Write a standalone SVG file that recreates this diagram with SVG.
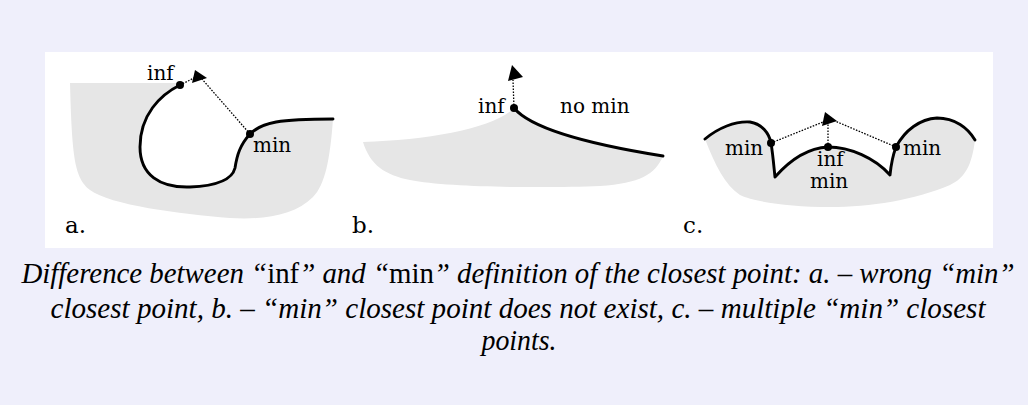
<svg xmlns="http://www.w3.org/2000/svg" width="1028" height="405" viewBox="0 0 1028 405">
<style>
.bg{fill:#EFEFFB}
.panel{fill:#FFFFFF}
.shade{fill:#E6E6E6;stroke:none}
.curve{fill:none;stroke:#000;stroke-width:2.9;stroke-linecap:round;stroke-linejoin:round}
.dot{fill:#000}
.dotted{fill:none;stroke:#000;stroke-width:1.3;stroke-dasharray:1.6,1.4}
.head{fill:#000}
.lbl{font-family:'DejaVu Serif',serif;font-size:20px;fill:#000}
.tag{font-family:'DejaVu Serif',serif;font-size:23px;fill:#000}
.cap{font-family:'Liberation Serif','Times New Roman',serif;font-style:italic;font-size:29px;fill:#000}
.up{font-style:normal}
</style>
<rect class="bg" x="0" y="0" width="1028" height="405"/>
<rect class="panel" x="45" y="52" width="948" height="196"/>

<g id="panel-a">
<path class="shade" d="M70,83 L180,83 C160,95 140,115 140,147 C140,175 160,188 190,187 C215,186 232,180 235,168 C237,155 240,145 250,134 C262,122 280,119 333,119 C330,160 325,185 313,197 C295,215 265,220 230,218 C180,214 110,205 90,190 C75,178 72,160 70,83 Z"/>
<path class="curve" d="M180,85 C160,95 140,115 140,147 C140,175 160,188 190,187 C215,186 232,180 235,168 C237,155 240,145 250,134 C262,122 280,119 333,119"/>
<circle class="dot" cx="180" cy="85" r="4"/>
<circle class="dot" cx="250" cy="134" r="4"/>
<text class="lbl" x="147" y="80">inf</text>
<text class="lbl" x="253" y="152">min</text>
<text class="tag" x="65" y="233">a.</text>
</g>

<g id="panel-b">
<path class="shade" d="M363,142 C430,140 495,128 514,108 C528,125 575,142 663,156 C655,175 640,183 600,186 C550,188 450,188 410,180 C385,175 370,165 363,142 Z"/>
<path class="curve" d="M514,108 C528,125 575,142 663,156"/>
<circle class="dot" cx="514" cy="108" r="4"/>
<text class="lbl" x="478" y="113">inf</text>
<text class="lbl" x="560" y="113">no min</text>
<text class="tag" x="352" y="233">b.</text>
</g>

<g id="panel-c">
<path class="shade" d="M705,139 C718,128 735,121 750,122 C762,124 769,133 771,143 C773,155 774,168 775,177 C790,160 808,148 828,147 C850,147 875,158 890,175 C891,165 893,155 896,147 C905,130 920,119 937,118 C955,118 968,128 975,140 C972,165 965,178 950,185 C915,200 870,207 830,207 C790,207 755,202 740,195 C725,185 715,165 705,139 Z"/>
<path class="curve" d="M705,139 C718,128 735,121 750,122 C762,124 769,133 771,143 C773,155 774,168 775,177 C790,160 808,148 828,147 C850,147 875,158 890,175 C891,165 893,155 896,147 C905,130 920,119 937,118 C955,118 968,128 975,140"/>
<circle class="dot" cx="771" cy="143" r="4"/>
<circle class="dot" cx="828" cy="147" r="4"/>
<circle class="dot" cx="896" cy="147" r="4"/>
<text class="lbl" x="725" y="155">min</text>
<text class="lbl" x="903" y="155">min</text>
<text class="lbl" x="817" y="166">inf</text>
<text class="lbl" x="810" y="188">min</text>
<text class="tag" x="683" y="233">c.</text>
</g>

<g id="connectors">
<path class="dotted" d="M180,85 L196,77"/>
<path class="dotted" d="M250,134 L202,79"/>
<polygon class="head" points="195,70 207,78 192,83"/>
<path class="dotted" d="M514,108 L513,80"/>
<polygon class="head" points="512,65 523,77 508,81"/>
<path class="dotted" d="M771,143 L823,122"/>
<path class="dotted" d="M828,147 L828,124"/>
<path class="dotted" d="M896,147 L835,121"/>
<polygon class="head" points="825,112 837,121 822,126"/>
</g>

<g id="caption">
<text class="cap" x="518" y="283" text-anchor="middle" textLength="993" lengthAdjust="spacingAndGlyphs">Difference between “<tspan class="up">inf</tspan>” and “<tspan class="up">min</tspan>” definition of the closest point: a. – wrong “min”</text>
<text class="cap" x="518" y="318" text-anchor="middle" textLength="935" lengthAdjust="spacingAndGlyphs">closest point, b. – “min” closest point does not exist, c. – multiple “min” closest</text>
<text class="cap" x="519" y="350" text-anchor="middle" textLength="75" lengthAdjust="spacingAndGlyphs">points.</text>
</g>
</svg>
